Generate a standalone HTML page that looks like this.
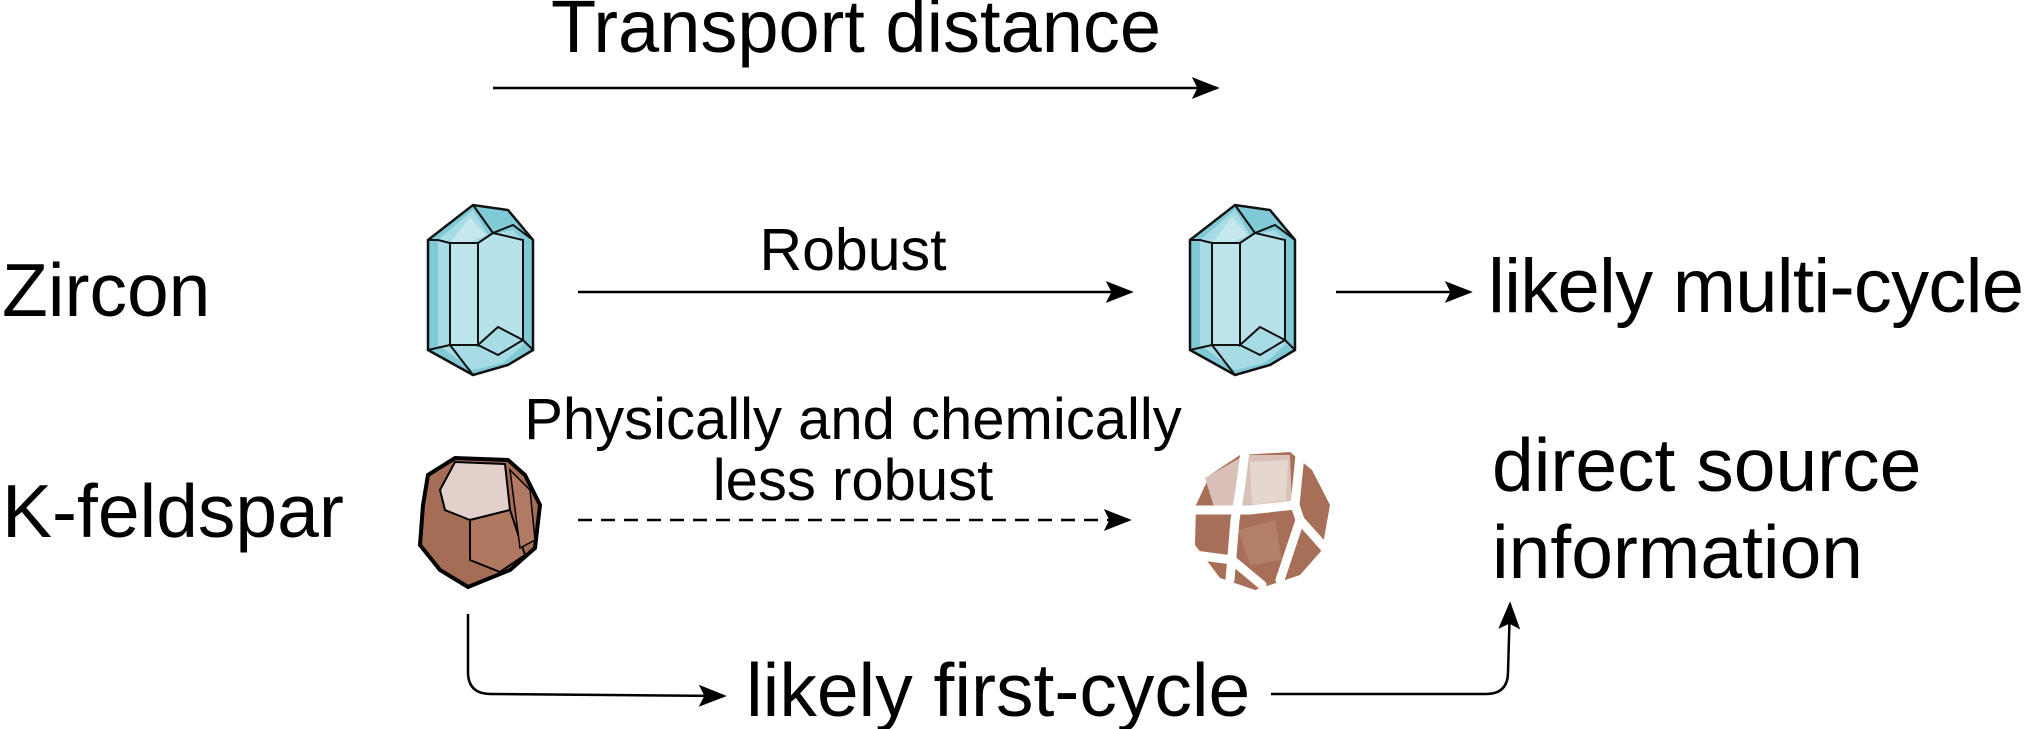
<!DOCTYPE html>
<html><head><meta charset="utf-8"><style>
html,body{margin:0;padding:0;background:#fff;width:2028px;height:729px;overflow:hidden}
svg text{font-family:"Liberation Sans",Arial,sans-serif;fill:#000}
</style></head><body>
<svg width="2028" height="729" viewBox="0 0 2028 729" xmlns="http://www.w3.org/2000/svg">
<defs>
<marker id="ah2" viewBox="0 0 10 10" refX="9" refY="5" markerWidth="28" markerHeight="22" markerUnits="userSpaceOnUse" orient="auto" preserveAspectRatio="none">
<path d="M0,0 L10,5 L0,10 L2,5 Z" fill="#000"/></marker>
<g id="zircon">
<polygon points="0,35 45,0 80,5 105,35 105,145 80,160 45,170 0,145" fill="#7fcad6" stroke="#111" stroke-width="2.5"/>
<polygon points="10,35 45,5 60,30 85,25 95,35 95,140 75,158 45,165 10,140" fill="#a8dce5"/>
<polygon points="22,38 42,12 58,30 35,40" fill="#c4e8ee"/>
<polygon points="22,38 50,38 50,140 22,140" fill="#bde4eb" stroke="#111" stroke-width="2"/>
<polygon points="50,38 65,28 95,35 95,135 70,122 50,140" fill="#b8e2e9" stroke="#111" stroke-width="2"/>
<polyline points="45,0 65,28 85,20 105,35" fill="none" stroke="#111" stroke-width="2"/>
<polyline points="0,35 10,35 22,38" fill="none" stroke="#111" stroke-width="2"/>
<polyline points="0,145 22,140 45,170" fill="none" stroke="#111" stroke-width="2"/>
<polyline points="50,140 70,150 95,135 105,145" fill="none" stroke="#111" stroke-width="2"/>
</g>
</defs>

<text x="856" y="52" font-size="74" text-anchor="middle">Transport distance</text>
<line x1="493" y1="88" x2="1217" y2="88" stroke="#000" stroke-width="2.5" marker-end="url(#ah2)"/>

<text x="2" y="316" font-size="75">Zircon</text>
<text x="2" y="537" font-size="75">K-feldspar</text>

<use href="#zircon" x="428" y="205"/>
<use href="#zircon" x="1190" y="205"/>

<text x="853" y="270" font-size="59" text-anchor="middle">Robust</text>
<line x1="578" y1="292" x2="1131" y2="292" stroke="#000" stroke-width="2.5" marker-end="url(#ah2)"/>
<line x1="1336" y1="292" x2="1470" y2="292" stroke="#000" stroke-width="2.5" marker-end="url(#ah2)"/>
<text x="1488" y="312" font-size="76" textLength="536">likely multi-cycle</text>

<text x="853" y="439" font-size="58" text-anchor="middle">Physically and chemically</text>
<text x="853" y="500" font-size="58" text-anchor="middle">less robust</text>

<g>
<polygon points="428,475 455,458 508,460 525,475 540,505 535,548 510,570 468,587 440,570 420,545 423,505" fill="#a56d55" stroke="#000" stroke-width="4"/>
<polygon points="440,490 455,462 505,464 510,510 470,520 445,510" fill="#e2d0ca" stroke="#000" stroke-width="2"/>
<polygon points="470,520 510,510 525,555 500,572 470,560" fill="#b07860" stroke="#000" stroke-width="2"/>
<polygon points="510,470 530,490 535,540 520,548" fill="#b27a64" stroke="#000" stroke-width="1.5"/>
</g>
<line x1="578" y1="520" x2="1129" y2="520" stroke="#000" stroke-width="2.5" stroke-dasharray="14,9" marker-end="url(#ah2)"/>

<g>
<polygon points="1210,475 1240,455 1290,452 1312,470 1330,505 1322,550 1300,575 1255,590 1220,578 1195,545 1196,505" fill="#a86f58"/>
<polygon points="1205,478 1245,455 1290,455 1292,505 1215,510" fill="#d9c0b8"/>
<polygon points="1250,462 1288,460 1286,500 1252,505" fill="#e6d6d0"/>
<polygon points="1238,530 1275,520 1282,560 1250,565" fill="#b47f69"/>
<g fill="none" stroke="#fff" stroke-width="9" stroke-linecap="round">
<polyline points="1245,452 1240,490 1235,520 1230,580"/>
<polyline points="1196,510 1250,510 1295,505 1300,455"/>
<polyline points="1295,505 1300,520 1280,580"/>
<polyline points="1300,520 1325,548"/>
<polyline points="1195,555 1232,560"/>
<polyline points="1232,560 1262,585"/>
</g>
</g>

<text x="1492" y="491" font-size="75">direct source</text>
<text x="1492" y="578" font-size="75">information</text>

<path d="M468,614 L468,672 Q468,694 491,694 L724,696" fill="none" stroke="#000" stroke-width="2.5" marker-end="url(#ah2)"/>
<text x="746" y="716" font-size="75">likely first-cycle</text>
<path d="M1271,694 L1486,694 Q1508,694 1508,672 L1510,604" fill="none" stroke="#000" stroke-width="2.5" marker-end="url(#ah2)"/>
</svg>
</body></html>
